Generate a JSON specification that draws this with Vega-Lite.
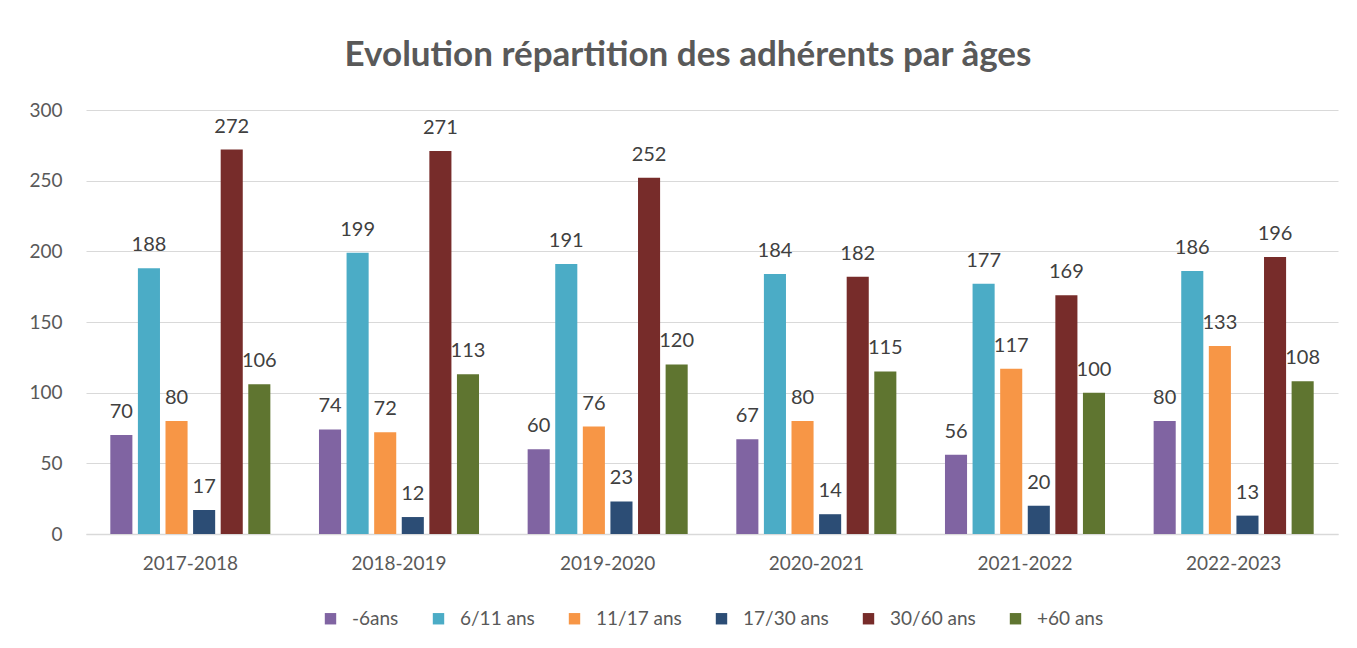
{
  "$schema": "https://vega.github.io/schema/vega-lite/v6.json",
  "width": 1252,
  "height": 424,
  "autosize": "none",
  "padding": {"left": 86, "top": 110, "right": 19, "bottom": 114},
  "background": "white",
  "title": {
    "text": "Evolution répartition des adhérents par âges",
    "font": "Lato",
    "fontSize": 35,
    "fontWeight": "bold",
    "color": "#595959",
    "anchor": "middle",
    "dx": -24,
    "offset": 28
  },
  "data": {
    "values": [
      {"saison": "2017-2018", "age": "-6ans", "n": 70},
      {"saison": "2017-2018", "age": "6/11 ans", "n": 188},
      {"saison": "2017-2018", "age": "11/17 ans", "n": 80},
      {"saison": "2017-2018", "age": "17/30 ans", "n": 17},
      {"saison": "2017-2018", "age": "30/60 ans", "n": 272},
      {"saison": "2017-2018", "age": "+60 ans", "n": 106},
      {"saison": "2018-2019", "age": "-6ans", "n": 74},
      {"saison": "2018-2019", "age": "6/11 ans", "n": 199},
      {"saison": "2018-2019", "age": "11/17 ans", "n": 72},
      {"saison": "2018-2019", "age": "17/30 ans", "n": 12},
      {"saison": "2018-2019", "age": "30/60 ans", "n": 271},
      {"saison": "2018-2019", "age": "+60 ans", "n": 113},
      {"saison": "2019-2020", "age": "-6ans", "n": 60},
      {"saison": "2019-2020", "age": "6/11 ans", "n": 191},
      {"saison": "2019-2020", "age": "11/17 ans", "n": 76},
      {"saison": "2019-2020", "age": "17/30 ans", "n": 23},
      {"saison": "2019-2020", "age": "30/60 ans", "n": 252},
      {"saison": "2019-2020", "age": "+60 ans", "n": 120},
      {"saison": "2020-2021", "age": "-6ans", "n": 67},
      {"saison": "2020-2021", "age": "6/11 ans", "n": 184},
      {"saison": "2020-2021", "age": "11/17 ans", "n": 80},
      {"saison": "2020-2021", "age": "17/30 ans", "n": 14},
      {"saison": "2020-2021", "age": "30/60 ans", "n": 182},
      {"saison": "2020-2021", "age": "+60 ans", "n": 115},
      {"saison": "2021-2022", "age": "-6ans", "n": 56},
      {"saison": "2021-2022", "age": "6/11 ans", "n": 177},
      {"saison": "2021-2022", "age": "11/17 ans", "n": 117},
      {"saison": "2021-2022", "age": "17/30 ans", "n": 20},
      {"saison": "2021-2022", "age": "30/60 ans", "n": 169},
      {"saison": "2021-2022", "age": "+60 ans", "n": 100},
      {"saison": "2022-2023", "age": "-6ans", "n": 80},
      {"saison": "2022-2023", "age": "6/11 ans", "n": 186},
      {"saison": "2022-2023", "age": "11/17 ans", "n": 133},
      {"saison": "2022-2023", "age": "17/30 ans", "n": 13},
      {"saison": "2022-2023", "age": "30/60 ans", "n": 196},
      {"saison": "2022-2023", "age": "+60 ans", "n": 108}
    ]
  },
  "encoding": {
    "x": {
      "field": "saison",
      "type": "nominal",
      "sort": null,
      "scale": {"paddingInner": 0.233, "paddingOuter": 0.1165},
      "axis": {
        "title": null,
        "labelAngle": 0,
        "labelFont": "Lato",
        "labelFontSize": 19,
        "labelColor": "#595959",
        "labelPadding": 20,
        "ticks": false,
        "domainColor": "#D9D9D9",
        "domainWidth": 1.5
      }
    },
    "xOffset": {
      "field": "age",
      "type": "nominal",
      "sort": ["-6ans", "6/11 ans", "11/17 ans", "17/30 ans", "30/60 ans", "+60 ans"],
      "scale": {"paddingInner": 0.2, "paddingOuter": 0}
    },
    "y": {
      "field": "n",
      "type": "quantitative",
      "scale": {"domain": [0, 300]},
      "axis": {
        "title": null,
        "values": [0, 50, 100, 150, 200, 250, 300],
        "labelFont": "Lato",
        "labelFontSize": 19,
        "labelColor": "#595959",
        "labelPadding": 24,
        "ticks": false,
        "domain": false,
        "gridColor": "#D9D9D9",
        "gridWidth": 1.2
      }
    }
  },
  "layer": [
    {
      "mark": {"type": "bar"},
      "encoding": {
        "color": {
          "field": "age",
          "type": "nominal",
          "sort": ["-6ans", "6/11 ans", "11/17 ans", "17/30 ans", "30/60 ans", "+60 ans"],
          "scale": {
            "domain": ["-6ans", "6/11 ans", "11/17 ans", "17/30 ans", "30/60 ans", "+60 ans"],
            "range": ["#8064A2", "#4BACC6", "#F79646", "#2C4D75", "#772C2A", "#5F7530"]
          },
          "legend": {
            "title": null,
            "orient": "bottom",
            "direction": "horizontal",
            "symbolType": "square",
            "symbolSize": 130,
            "symbolStrokeWidth": 0,
            "labelFont": "Lato",
            "labelFontSize": 19,
            "labelColor": "#595959",
            "labelOffset": 12,
            "columnPadding": 30,
            "offset": 36
          }
        }
      }
    },
    {
      "mark": {
        "type": "text",
        "baseline": "bottom",
        "dy": -13,
        "font": "Lato",
        "fontSize": 20,
        "color": "#404040"
      },
      "encoding": {"text": {"field": "n", "type": "quantitative"}}
    }
  ],
  "config": {
    "view": {"stroke": null},
    "legend": {"layout": {"bottom": {"anchor": "middle"}}}
  }
}
